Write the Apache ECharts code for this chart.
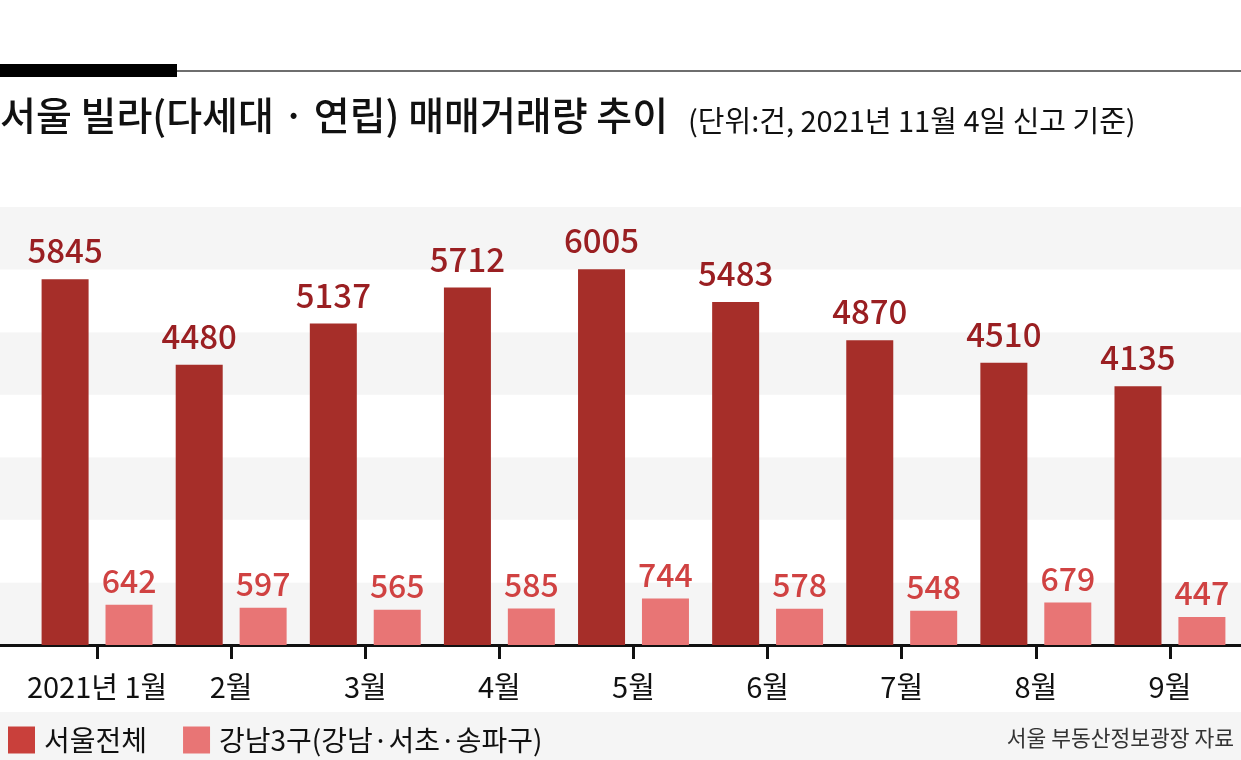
<!DOCTYPE html>
<html><head><meta charset="utf-8">
<script src="https://cdn.jsdelivr.net/npm/echarts@6/dist/echarts.min.js"></script>
<style>html,body{margin:0;padding:0;background:#fff}#c{width:1241px;height:760px}</style>
</head><body><div id="c"></div>
<script>
const categories = ['2021년 1월','2월','3월','4월','5월','6월','7월','8월','9월'];
const seoulTotal = [5845,4480,5137,5712,6005,5483,4870,4510,4135];
const gangnam3 = [642,597,565,585,744,578,548,679,447];
const seriesNames = ['서울전체','강남3구(강남·서초·송파구)'];
const yMax = 7000, yInterval = 1000;

const FONT = '"Noto Sans CJK KR", "Noto Sans", sans-serif';
const chart = echarts.init(document.getElementById('c'), null, {renderer:'canvas'});
chart.setOption({
  animation:false,
  textStyle:{fontFamily:FONT},
  graphic:[
    {type:'rect', shape:{x:0,y:712,width:1241,height:48}, style:{fill:'#f5f5f5'}, z:-10},
    {type:'rect', shape:{x:177,y:70,width:1064,height:2}, style:{fill:'#6e6e6e'}},
    {type:'rect', shape:{x:0,y:64,width:177,height:13}, style:{fill:'#000'}},
    {type:'text', left:0, top:96, style:{text:'서울 빌라(다세대 · 연립) 매매거래량 추이', font:'500 39px '+FONT, fill:'#111'}},
    {type:'text', left:688, top:106, style:{text:'(단위:건, 2021년 11월 4일 신고 기준)', font:'400 29px '+FONT, fill:'#111'}},
    {type:'text', right:7, top:727, style:{text:'서울 부동산정보광장 자료', font:'400 21.5px '+FONT, fill:'#333'}}
  ],
  legend:{
    left:3, top:721, itemWidth:27, itemHeight:27, itemGap:36, icon:'rect',
    textStyle:{fontSize:28, color:'#111', fontFamily:FONT, padding:[0,0,0,4]},
    data:[{name:seriesNames[0], itemStyle:{color:'#c9403b'}},{name:seriesNames[1], itemStyle:{color:'#e87575'}}]
  },
  grid:[
    {left:30, right:4, top:207, bottom:115, containLabel:false},
    {left:0, right:0, top:207, bottom:115, containLabel:false}
  ],
  xAxis:[
    {type:'category', gridIndex:0, data:categories,
     axisLine:{show:false},
     axisTick:{show:true, alignWithLabel:true, length:14, lineStyle:{color:'#111', width:3}},
     axisLabel:{interval:0, fontSize:29, color:'#111', margin:27, fontFamily:FONT}},
    {type:'value', gridIndex:1, min:0, max:1, show:true,
     axisLine:{show:true, onZero:false, lineStyle:{color:'#111', width:3}},
     axisTick:{show:false}, axisLabel:{show:false}, splitLine:{show:false}}
  ],
  yAxis:[
    {type:'value', gridIndex:0, min:0, max:yMax, interval:yInterval, show:false, splitLine:{show:false}},
    {type:'value', gridIndex:1, min:0, max:yMax, interval:yInterval,
     axisLine:{show:false}, axisTick:{show:false}, axisLabel:{show:false}, splitLine:{show:false},
     splitArea:{show:true, areaStyle:{color:['#f5f5f5','#ffffff']}}}
  ],
  series:[
    {name:seriesNames[0], type:'bar', xAxisIndex:0, yAxisIndex:0, data:seoulTotal, barWidth:47, barGap:'36%',
     itemStyle:{color:'#a62e29'},
     label:{show:true, position:'top', distance:12, fontSize:33, fontWeight:500, color:'#9a1f22', fontFamily:FONT}},
    {name:seriesNames[1], type:'bar', xAxisIndex:0, yAxisIndex:0, data:gangnam3, barWidth:47,
     itemStyle:{color:'#e87575'},
     label:{show:true, position:'top', distance:8, fontSize:32, fontWeight:500, color:'#d04242', fontFamily:FONT}}
  ]
});
</script></body></html>
